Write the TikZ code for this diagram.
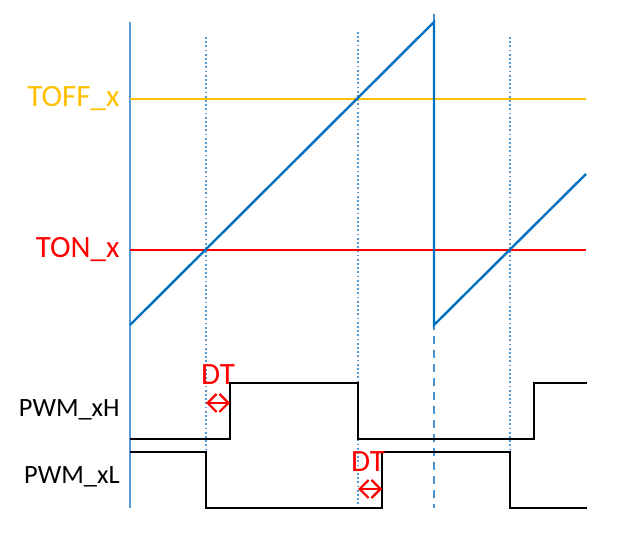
\documentclass[tikz,border=0pt]{standalone}
\usepackage{fontspec}
\setmainfont{Carlito}
\usepackage{tikz}
\usetikzlibrary{arrows.meta}
\definecolor{RampBlue}{HTML}{0070C0}
\definecolor{GridBlue}{HTML}{5B9BD5}
\definecolor{ToffYellow}{HTML}{FFC000}
\definecolor{TonRed}{HTML}{FF0000}

\begin{document}
\begin{tikzpicture}[
    x=0.5pt, y=-0.5pt,
    every node/.style={font=\fontsize{15.5}{18}\selectfont, inner sep=0pt},
    pwmlabel/.style={anchor=east, font=\fontsize{13.2}{16}\selectfont},
    gridline/.style={GridBlue!90!RampBlue, line width=0.9pt, dash pattern=on 0.9pt off 1.2pt},
    signal/.style={black, line width=1.2pt},
    dtarrow/.style={TonRed, line width=1.1pt, {Straight Barb[length=4.5pt, width=9pt]}-{Straight Barb[length=4.5pt, width=9pt]}}
]
\useasboundingbox (0,0) rectangle (627,555);

% === TIME GRID ===
\draw[GridBlue, line width=1.2pt] (130,22) -- (130,508);
\draw[gridline] (206,37) -- (206,508);
\draw[gridline] (358,32) -- (358,508);
\draw[gridline] (510,37) -- (510,508);
\draw[GridBlue!80!RampBlue, line width=1.2pt, dash pattern=on 4pt off 3pt] (434,14) -- (434,508);

% === COMPARE LEVELS ===
\draw[ToffYellow, line width=1.1pt] (130,99) -- (586,99);
\node[ToffYellow, anchor=east] (toff) at (120,99) {TOFF\_x};
\draw[TonRed, line width=1.1pt] (130,250) -- (586,250);
\node[TonRed, anchor=east] (ton) at (120,250) {TON\_x};

% === COUNTER RAMP ===
\draw[RampBlue, line width=1.2pt, line join=miter]
    (130,325) -- (434,22) -- (434,325) -- (586,174);

% === PWM OUTPUTS ===
\node[pwmlabel] (pwmh) at (120,410) {PWM\_xH};
\draw[signal] (130,439) -- (230,439) -- (230,383) -- (358,383) --
    (358,439) -- (534,439) -- (534,383) -- (587,383);
\node[pwmlabel] (pwml) at (120,477) {PWM\_xL};
\draw[signal] (130,452) -- (206,452) -- (206,508) -- (382,508) --
    (382,452) -- (510,452) -- (510,508) -- (587,508);

% === DEAD TIME ===
\coordinate (dta) at (206,403);
\coordinate (dtb) at (230,403);
\draw[dtarrow] (dta) -- (dtb);
\node[TonRed] (dtone) at (218,375) {DT};
\coordinate (dtc) at (358,489);
\coordinate (dtd) at (382,489);
\draw[dtarrow] (dtc) -- (dtd);
\node[TonRed] (dttwo) at (368,462) {DT};

\end{tikzpicture}
\end{document}
